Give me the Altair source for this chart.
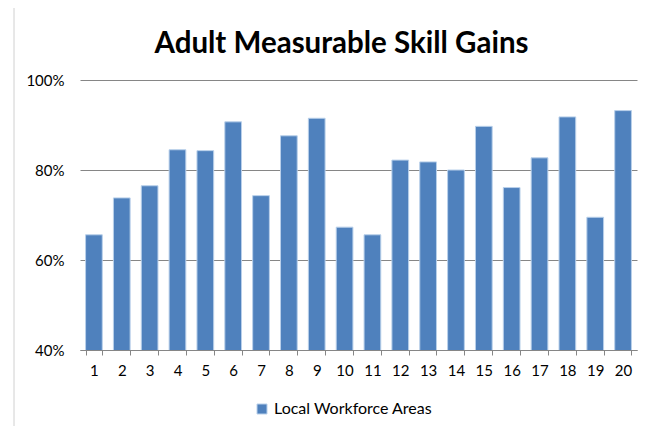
import altair as alt
import pandas as pd

areas = [str(i) for i in range(1, 21)]
rates = [0.656, 0.738, 0.765, 0.845, 0.843, 0.907, 0.743, 0.876, 0.915, 0.673,
         0.656, 0.822, 0.818, 0.800, 0.897, 0.761, 0.827, 0.918, 0.695, 0.932]
series = ["Local Workforce Areas"] * len(areas)
y_ticks = [0.4, 0.6, 0.8, 1.0]

df = pd.DataFrame({"area": areas, "rate": rates, "series": series})

FONT = "Lato"

border = alt.Chart(pd.DataFrame({"a": [0]})).mark_rect(
    fill=None, stroke="#d0d0d0", strokeWidth=1
).encode(
    x=alt.value(-66), x2=alt.value(566), y=alt.value(-73), y2=alt.value(360)
)

bars = alt.Chart(df).mark_bar(
    color="#4f81bd", stroke="#b9d0ea", strokeWidth=1, clip=True
).encode(
    x=alt.X("area:N", sort=areas, title=None,
            scale=alt.Scale(paddingInner=0.4, paddingOuter=0.2),
            axis=alt.Axis(labelAngle=0, tickBand="extent", tickSize=5,
                          tickColor="#868686", domainColor="#868686",
                          labelFont=FONT, labelFontSize=15, labelColor="#000000",
                          labelPadding=8, grid=False)),
    y=alt.Y("rate:Q", title=None,
            scale=alt.Scale(domain=[0.4, 1.0], zero=False, nice=False),
            axis=alt.Axis(values=y_ticks, format=".0%", domain=False, ticks=False,
                          gridColor="#868686", gridWidth=1,
                          labelFont=FONT, labelFontSize=15, labelColor="#000000",
                          labelPadding=16)),
    fill=alt.Fill("series:N", scale=alt.Scale(range=["#4f81bd"]),
                  legend=alt.Legend(title=None, orient="none", legendX=174, legendY=321,
                                    symbolType="square", symbolSize=100,
                                    symbolStrokeColor="#b9d0ea", symbolStrokeWidth=1,
                                    labelFont=FONT, labelFontSize=16, labelColor="#000000",
                                    labelOffset=4))
)

chart = alt.layer(border, bars).properties(
    width=557, height=270,
    autosize=alt.AutoSizeParams(type="none"),
    padding={"left": 72, "top": 72, "right": 4, "bottom": 76},
    title=alt.Title("Adult Measurable Skill Gains", font=FONT, fontSize=29.5,
                    fontWeight="bold", color="#000000", anchor="middle",
                    dx=-17, offset=-53)
).configure_view(stroke=None)

chart.save("out.html", embed_options={"renderer": "svg", "actions": False})
